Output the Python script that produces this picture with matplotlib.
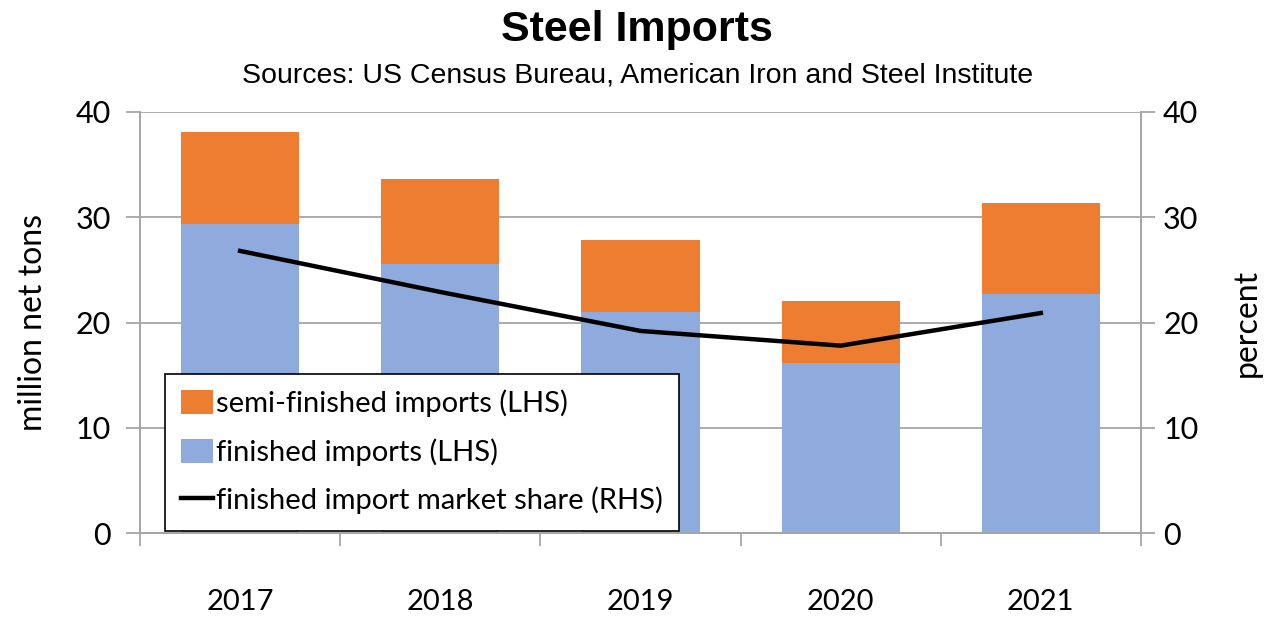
import matplotlib
matplotlib.use("Agg")
import matplotlib.pyplot as plt
import numpy as np

years = ["2017", "2018", "2019", "2020", "2021"]
finished = [29.4, 25.6, 21.0, 16.2, 22.7]
semi_finished = [8.7, 8.0, 6.8, 5.8, 8.7]
market_share = [26.8, 22.9, 19.2, 17.8, 20.9]

ORANGE = "#ED7D31"
BLUE = "#8FAADC"
GRID = "#A6A6A6"
TICK_FONT = "Lato"

fig = plt.figure(figsize=(12.67, 6.17), dpi=100)
ax = fig.add_axes([0.1105, 0.1361, 0.790, 0.6824])
ax2 = ax.twinx()

x = np.arange(len(years))
b1 = ax.bar(x, finished, width=0.59, color=BLUE, zorder=2,
            label="finished imports (LHS)")
b2 = ax.bar(x, semi_finished, bottom=finished, width=0.59, color=ORANGE,
            zorder=2, label="semi-finished imports (LHS)")
ln, = ax2.plot(x, market_share, color="black", lw=3.2, zorder=3,
               label="finished import market share (RHS)")

for a, pad in ((ax, 11), (ax2, 6)):
    a.set_ylim(0, 40)
    a.set_yticks([0, 10, 20, 30, 40])
    a.set_xlim(-0.5, len(years) - 0.5)
    for s in a.spines.values():
        s.set_color(GRID)
        s.set_linewidth(1.3)
    a.spines["top"].set_visible(False)
    a.tick_params(axis="y", length=10, width=1.3, color=GRID, labelsize=22,
                  pad=pad)
    for lab in a.get_yticklabels():
        lab.set_family(TICK_FONT)

ax.yaxis.grid(True, color=GRID, lw=1.3, zorder=0)
ax.set_axisbelow(True)

# category boundary ticks below the axis, year labels centred between them
ax.set_xticks(np.arange(-0.5, len(years)), minor=False)
ax.set_xticklabels([])
ax.tick_params(axis="x", length=9, width=1.3, color=GRID, direction="out")
ax.set_xticks(x, minor=True)
ax.set_xticklabels(years, minor=True, fontsize=21, family=TICK_FONT)
ax.tick_params(axis="x", which="minor", length=0, pad=40)

ax.set_ylabel("million net tons", fontsize=23, family=TICK_FONT, labelpad=20)
ax2.set_ylabel("percent", fontsize=23, family=TICK_FONT, labelpad=24)

leg = ax2.legend(handles=[b2, b1, ln], loc="lower left",
                 bbox_to_anchor=(0.025, 0.006), borderaxespad=0,
                 prop={"family": TICK_FONT, "size": 21}, frameon=True,
                 fancybox=False, edgecolor="black", framealpha=1,
                 handlelength=1.1, handleheight=0.9, handletextpad=0.1,
                 labelspacing=0.72, borderpad=0.55)
leg.get_frame().set_linewidth(1.2)
leg.set_zorder(10)

fig.text(0.503, 0.951, "Steel Imports", ha="center", va="center",
         fontsize=31, fontweight="bold", family="Liberation Sans")
fig.text(0.503, 0.878, "Sources: US Census Bureau, American Iron and Steel Institute",
         ha="center", va="center", fontsize=20.5, family="Liberation Sans")

fig.savefig("out.png", dpi=100)
